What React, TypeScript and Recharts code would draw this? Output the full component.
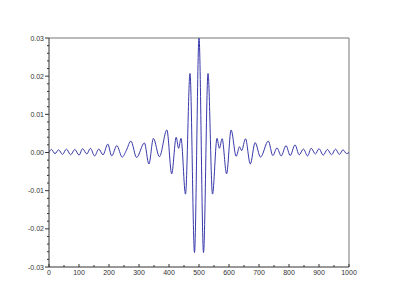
import { LineChart, Line, XAxis, YAxis, ReferenceLine } from 'recharts';

// extrema of the trace (x position, amplitude)
const sampleX = [
  0, 8, 20, 32, 45, 58, 72, 86, 100, 112, 126, 138, 152, 166, 180, 196, 209, 226, 244, 258,
  273, 292, 318, 333, 348, 368, 393, 409, 424, 432, 440, 455, 470, 485, 500, 515, 530, 545,
  560, 568, 577, 592, 607, 624, 635, 642, 655, 671, 687, 705, 731, 746, 760, 774, 790, 804,
  820, 834, 848, 862, 874, 888, 900, 914, 928, 942, 955, 968, 980, 992, 1000,
];
const sampleY = [
  0.0, 0.0008, -0.0003, 0.0007, -0.0005, 0.0009, -0.0006, 0.0008, -0.0007, 0.001, -0.0004, 0.0011, -0.0009, 0.0009, -0.0006, 0.0022, -0.0009, 0.0018, -0.0012, 0.0006,
  0.003, -0.0013, 0.0025, -0.003, 0.0037, -0.0011, 0.0059, -0.0056, 0.004, 0.0011, 0.0037, -0.0109, 0.0207, -0.0262, 0.03, -0.0262, 0.0207, -0.0109,
  0.0037, 0.0011, 0.0036, -0.0056, 0.0059, -0.001, 0.0015, 0.0005, 0.0036, -0.003, 0.0026, -0.0012, 0.003, -0.0008, 0.0012, -0.0009, 0.0018, -0.0008,
  0.002, -0.0006, 0.0009, -0.0009, 0.0011, -0.0004, 0.001, -0.0007, 0.0008, -0.0006, 0.0009, -0.0005, 0.0007, -0.0003, 0.0,
];

const xTicks = [0, 50, 100, 150, 200, 250, 300, 350, 400, 450, 500, 550, 600, 650, 700, 750, 800, 850, 900, 950, 1000];
const yMajor = [-0.03, -0.02, -0.01, 0, 0.01, 0.02, 0.03];
// 4 minor ticks between each labelled one
const yTicks = Array.from({ length: 31 }, (_, i) => Math.round((-0.03 + i * 0.002) * 1000) / 1000);

const data = sampleX.map((x, i) => ({ x, y: sampleY[i] }));

const axisColor = '#333';
const font = '"Liberation Sans", Arial, sans-serif';

const YTick = (props: any) => {
  const { x, y, payload } = props;
  const v = payload.value;
  const major = yMajor.some(m => Math.abs(m - v) < 1e-6);
  return (
    <g>
      <line x1={x} x2={x - (major ? 4 : 2)} y1={y} y2={y} stroke={axisColor} />
      {major && (
        <text x={x - 5} y={y} dy={2.5} textAnchor="end" fontSize={7} fill="#333" fontFamily={font}>
          {v.toFixed(2)}
        </text>
      )}
    </g>
  );
};

const XTick = (props: any) => {
  const { x, y, payload } = props;
  const v = payload.value;
  const major = v % 100 === 0;
  return (
    <g>
      <line x1={x} x2={x} y1={y} y2={y - (major ? 3 : 2)} stroke={axisColor} />
      {major && (
        <text x={x} y={y + 8} textAnchor="middle" fontSize={7} fill="#333" fontFamily={font}>
          {v}
        </text>
      )}
    </g>
  );
};

export default function App() {
  return (
    <div style={{ position: 'absolute', left: 0, top: 0, width: 400, height: 302, background: '#fff' }}>
      <LineChart width={400} height={302} data={data} margin={{ top: 38, right: 51, bottom: 0, left: 0 }}>
        <XAxis
          dataKey="x"
          type="number"
          domain={[0, 1000]}
          ticks={xTicks}
          interval={0}
          height={35}
          tickSize={0}
          tickMargin={0}
          tick={<XTick />}
          axisLine={{ stroke: axisColor }}
          tickLine={false}
        />
        <YAxis
          type="number"
          domain={[-0.03, 0.03]}
          ticks={yTicks}
          interval={0}
          width={49}
          tickSize={0}
          tickMargin={0}
          tick={<YTick />}
          axisLine={{ stroke: axisColor }}
          tickLine={false}
          allowDataOverflow
        />
        <ReferenceLine y={0.03} stroke="#777" />
        <ReferenceLine x={1000} stroke="#777" />
        <Line
          type="monotone"
          dataKey="y"
          stroke="#3838aa"
          strokeWidth={1}
          dot={false}
          isAnimationActive={false}
        />
      </LineChart>
    </div>
  );
}
